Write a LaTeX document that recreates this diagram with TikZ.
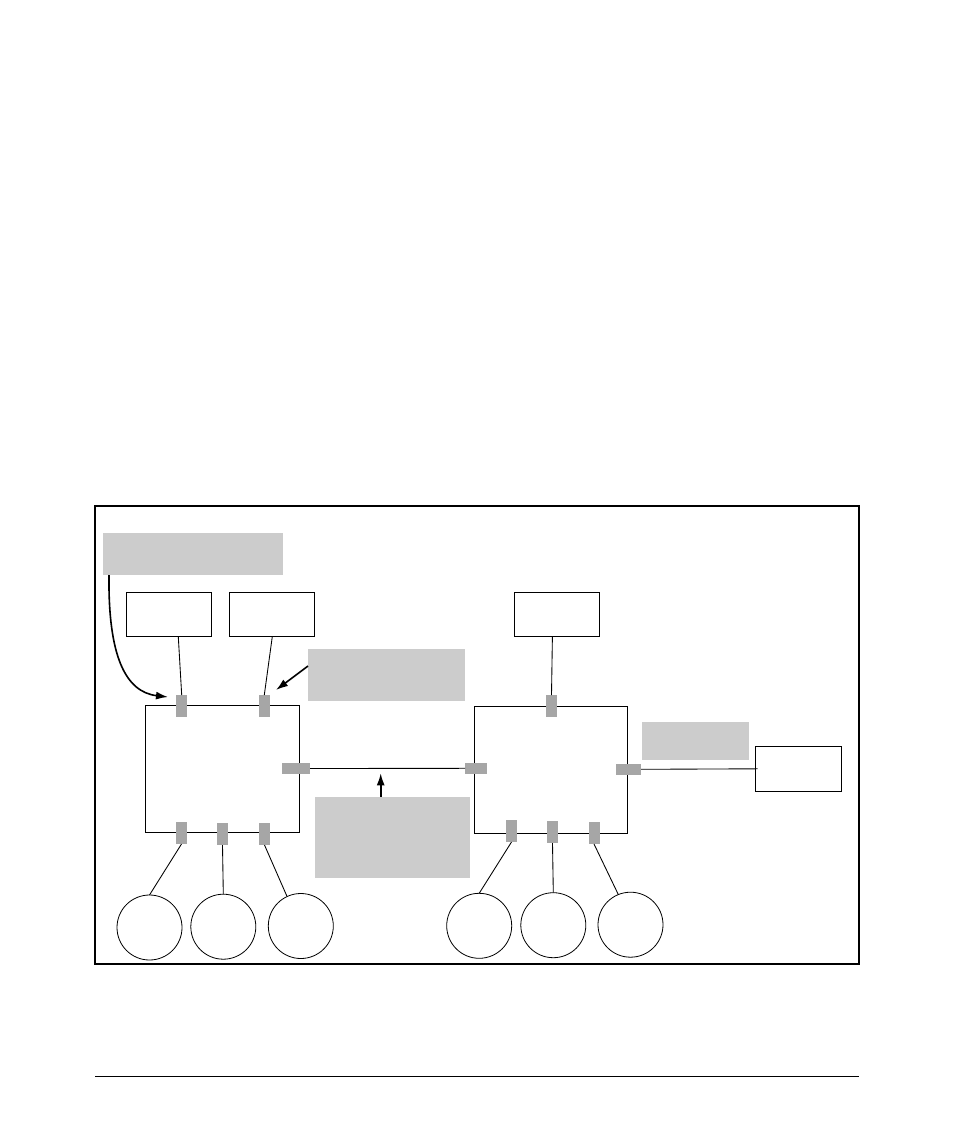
\documentclass[tikz,border=0pt]{standalone}
\usetikzlibrary{arrows.meta,calc}
\definecolor{labelgray}{HTML}{CCCCCC}
\definecolor{portgray}{HTML}{A6A6A6}
\begin{document}
\begin{tikzpicture}[x=0.75pt,y=-0.75pt,
  box/.style={draw,line width=0.8pt,fill=white,inner sep=0pt,outer sep=0pt,minimum width=#1},
  lbl/.style={fill=labelgray,inner sep=0pt,outer sep=0pt},
  vport/.style={fill=portgray,inner sep=0pt,outer sep=0pt,minimum width=8.25pt,minimum height=16.5pt},
  hport/.style={fill=portgray,inner sep=0pt,outer sep=0pt,minimum height=8.25pt,minimum width=#1},
  host/.style={draw,circle,line width=0.6pt,inner sep=0pt,outer sep=0pt,minimum size=48.75pt},
  wire/.style={line width=0.65pt},
  callout/.style={line width=1.2pt,-{Latex[length=9pt,width=6pt]}}]
\useasboundingbox (0,0) rectangle (954,1145);
% frame and rule
\draw[line width=1.2pt] (95,506) rectangle (859,964);
\draw[line width=0.6pt] (95,1076) -- (859,1076);
% grey labels
\node[lbl,minimum width=135pt,minimum height=31.5pt] (g1) at (193,554) {};
\node[lbl,minimum width=117.75pt,minimum height=39pt] (g2) at (386.5,675) {};
\node[lbl,minimum width=116.25pt,minimum height=60.75pt] (g3) at (392.5,837.3) {};
\node[lbl,minimum width=80.25pt,minimum height=28.5pt] (g4) at (695.3,740.8) {};
% top boxes
\node[box=63.75pt,minimum height=33pt] (A) at (168.8,614.3) {};
\node[box=63.75pt,minimum height=33pt] (B) at (271.8,614.3) {};
\node[box=63.75pt,minimum height=33pt] (C) at (556.8,614.3) {};
\node[box=64.5pt,minimum height=33.75pt] (D) at (798.3,768.8) {};
% switches
\node[box=115.5pt,minimum height=95.25pt] (S1) at (222.3,768.8) {};
\node[box=114.75pt,minimum height=95.25pt] (S2) at (550.8,769.8) {};
% ports switch 1
\node[vport] (p1t1) at (181.5,706) {};
\node[vport] (p1t2) at (264.5,706) {};
\node[hport=21pt] (p1r) at (296,768.5) {};
\node[vport] (p1b1) at (181.5,833) {};
\node[vport] (p1b2) at (222.5,834) {};
\node[vport] (p1b3) at (264.5,834) {};
% ports switch 2
\node[vport] (p2t) at (551.5,706) {};
\node[hport=16.5pt] (p2l) at (476,768.3) {};
\node[hport=18.75pt] (p2r) at (628.5,769.3) {};
\node[vport] (p2b1) at (511.5,831) {};
\node[vport] (p2b2) at (552.5,832) {};
\node[vport] (p2b3) at (594,833) {};
% hosts
\node[host] (h1) at (149.5,927.5) {};
\node[host] (h2) at (223.3,926.7) {};
\node[host] (h3) at (300.8,926) {};
\node[host] (h4) at (479.2,925.8) {};
\node[host] (h5) at (553.3,925.2) {};
\node[host] (h6) at (630.5,924.7) {};
% wires
\draw[wire] ([xshift=7.1pt]A.south) -- ([xshift=0.15pt]p1t1.north);
\draw[wire] ([xshift=0.4pt]B.south) -- ([xshift=-0.15pt]p1t2.north);
\draw[wire] ([xshift=-3.3pt]C.south) -- (p2t.north);
\draw[wire] (p1r.east) -- (p2l.west);
\draw[wire] (p2r.east) -- ([xshift=1.7pt]D.west);
\draw[wire] (p1b1.south) -- (h1.90);
\draw[wire] (p1b2.south) -- (h2.north);
\draw[wire] (p1b3.south) -- (h3.115);
\draw[wire] (p2b1.south) -- (h4.90);
\draw[wire] (p2b2.south) -- (h5.north);
\draw[wire] (p2b3.south) -- (h6.112);
% callout arrows
\coordinate (t1) at (168,697);
\coordinate (t2) at (276,690);
\coordinate (t3) at (380.7,773.3);
\draw[callout] ([xshift=-63pt]g1.south) .. controls (108,655) and (125,692) .. (t1);
\draw[callout] ([yshift=6.75pt]g2.west) -- (t2);
\draw[callout] (t3 |- g3.north) -- (t3);
\end{tikzpicture}
\end{document}
